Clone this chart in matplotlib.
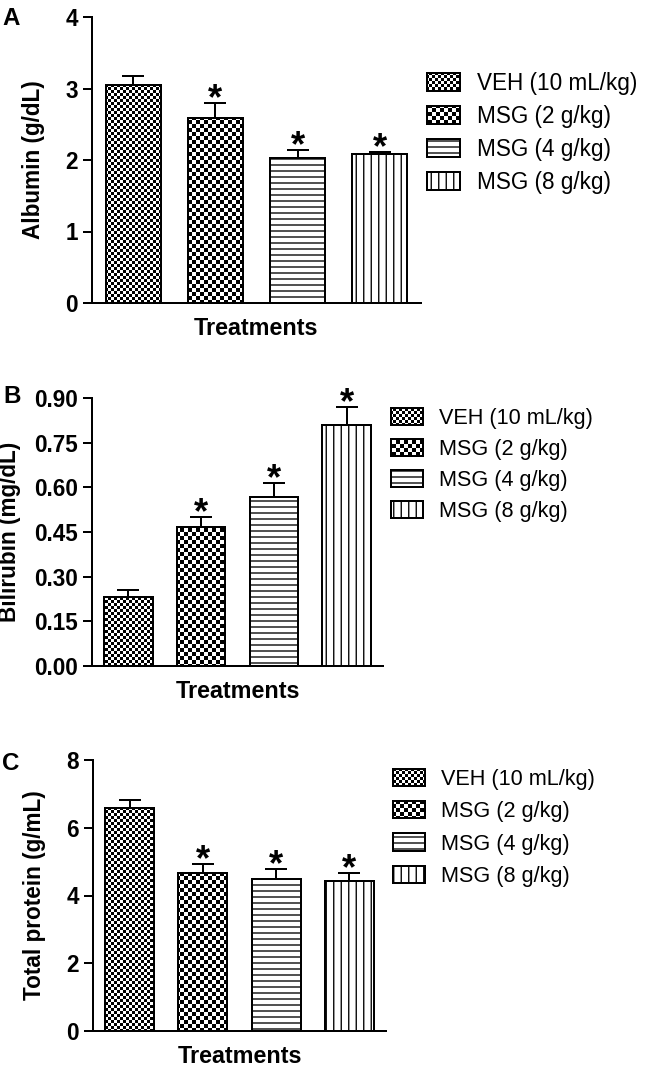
import warnings
import numpy as np
import matplotlib
matplotlib.use('Agg')
import matplotlib.pyplot as plt
import matplotlib.hatch as mhatch
import matplotlib.transforms as mtrans
from matplotlib.path import Path

warnings.filterwarnings('ignore')

groups = ['VEH (10 mL/kg)', 'MSG (2 g/kg)', 'MSG (4 g/kg)', 'MSG (8 g/kg)']
albumin = [3.05, 2.59, 2.03, 2.08]
albumin_sem = [0.12, 0.21, 0.11, 0.03]
bilirubin = [0.233, 0.466, 0.569, 0.808]
bilirubin_sem = [0.022, 0.034, 0.045, 0.062]
protein = [6.57, 4.67, 4.50, 4.43]
protein_sem = [0.24, 0.26, 0.28, 0.22]
signif = [False, True, True, True]

W, H, DPI = 646, 1069, 120
HATCH_LW = 0.8


# extra hatch styles: fine/coarse checkerboard and denser lines
class CheckerHatch(mhatch.HatchPatternBase):
    sizes = {'f': 40, 'c': 30}

    def __init__(self, hatch, density):
        self.n = 0
        for ch, n in self.sizes.items():
            if ch in hatch:
                self.n = n
        self.num_vertices = (self.n * self.n // 2) * 5

    def set_vertices_and_codes(self, vertices, codes):
        s = 1.0 / self.n
        m = HATCH_LW / 72 / 2
        k = 0
        for i in range(self.n):
            for j in range(self.n):
                if (i + j) % 2 == 0:
                    x0, x1 = i * s + m, (i + 1) * s - m
                    y0, y1 = j * s + m, (j + 1) * s - m
                    vertices[k:k + 5] = [(x0, y0), (x1, y0), (x1, y1), (x0, y1), (x0, y0)]
                    codes[k:k + 5] = [Path.MOVETO, Path.LINETO, Path.LINETO,
                                      Path.LINETO, Path.CLOSEPOLY]
                    k += 5


class LineHatch(mhatch.HatchPatternBase):
    def __init__(self, hatch, density):
        self.nh = 20 if 'h' in hatch else 0
        self.nv = 16 if 'v' in hatch else 0
        self.num_vertices = (self.nh + self.nv) * 2

    def set_vertices_and_codes(self, vertices, codes):
        k = 0
        for i in range(self.nh):
            y = (i + 0.5) / self.nh
            vertices[k:k + 2] = [(0, y), (1, y)]
            codes[k:k + 2] = [Path.MOVETO, Path.LINETO]
            k += 2
        for i in range(self.nv):
            x = (i + 0.5) / self.nv
            vertices[k:k + 2] = [(x, 0), (x, 1)]
            codes[k:k + 2] = [Path.MOVETO, Path.LINETO]
            k += 2


mhatch._hatch_types.append(CheckerHatch)
mhatch._hatch_types.append(LineHatch)

hatches = ['f', 'c', 'h', 'v']

plt.rcParams['font.family'] = ['Liberation Sans', 'DejaVu Sans']
plt.rcParams['font.weight'] = 'bold'
plt.rcParams['hatch.linewidth'] = HATCH_LW
plt.rcParams['hatch.color'] = 'black'

fig = plt.figure(figsize=(W / DPI, H / DPI), dpi=DPI)


def make_axes(left, right, top, bottom):
    return fig.add_axes([left / W, 1 - bottom / H, (right - left) / W, (bottom - top) / H])


def panel(ax, vals, sem, ylabel, yticks, fmt, ylab_x, xlab_y, leg_x, leg_top, leg_fs, leg_sp):
    x = np.arange(len(vals))
    bars = []
    for i in range(len(vals)):
        b = ax.bar(x[i], vals[i], width=0.67, color='white', edgecolor='black',
                   linewidth=1.2, hatch=hatches[i], label=groups[i])
        bars.append(b)
    ax.errorbar(x, vals, yerr=[np.zeros(len(vals)), sem], fmt='none', ecolor='black',
                elinewidth=1.2, capsize=6.6, capthick=1.2, zorder=3)
    for i in range(len(vals)):
        if signif[i]:
            ax.annotate('*', xy=(x[i], vals[i] + sem[i]), xytext=(0, -3.6),
                        textcoords='offset points', ha='center', va='baseline',
                        fontsize=22, fontweight='bold')
    ax.set_xlim(-0.5, 3.5)
    ax.set_ylim(yticks[0], yticks[-1])
    ax.set_yticks(yticks)
    ax.set_yticklabels([fmt % t for t in yticks])
    ax.set_xticks([])
    for s in ['top', 'right']:
        ax.spines[s].set_visible(False)
    for s in ['left', 'bottom']:
        ax.spines[s].set_linewidth(1.2)
    ax.tick_params(axis='y', direction='out', length=5.4, width=1.2, pad=3, labelsize=13.5)
    ax.set_ylabel(ylabel, fontsize=13.5, fontweight='bold')
    ax.yaxis.set_label_coords(ylab_x / W, 0.5,
                              transform=mtrans.blended_transform_factory(fig.transFigure, ax.transAxes))
    ax.set_xlabel('Treatments', fontsize=14, fontweight='bold', va='top')
    ax.xaxis.set_label_coords(0.5, 1 - xlab_y / H,
                              transform=mtrans.blended_transform_factory(ax.transAxes, fig.transFigure))
    ax.legend(bars, groups, loc='upper left',
              bbox_to_anchor=(leg_x / W, 1 - leg_top / H), bbox_transform=fig.transFigure,
              frameon=False, borderpad=0, borderaxespad=0,
              handlelength=1.47, handleheight=0.85, handletextpad=0.75,
              labelspacing=leg_sp, prop={'size': leg_fs, 'weight': 'normal'})


axA = make_axes(92, 421, 17, 303)
panel(axA, albumin, albumin_sem, 'Albumin (g/dL)', [0, 1, 2, 3, 4], '%d',
      45, 317, 427, 72, 13.5, 0.44)

axB = make_axes(92, 383, 398, 666)
panel(axB, bilirubin, bilirubin_sem, 'Bilirubin (mg/dL)',
      [0, 0.15, 0.30, 0.45, 0.60, 0.75, 0.90], '%.2f',
      21, 680, 391, 408, 13, 0.45)

axC = make_axes(93, 386, 760, 1031)
panel(axC, protein, protein_sem, 'Total protein (g/mL)', [0, 2, 4, 6, 8], '%d',
      46, 1045, 393, 769, 13, 0.51)

for letter, xp, yp in [('A', 2, 7), ('B', 3, 385), ('C', 2, 752)]:
    fig.text(xp / W, 1 - yp / H, letter, fontsize=14.5, fontweight='bold', ha='left', va='top')

fig.savefig('out.png', dpi=DPI)
